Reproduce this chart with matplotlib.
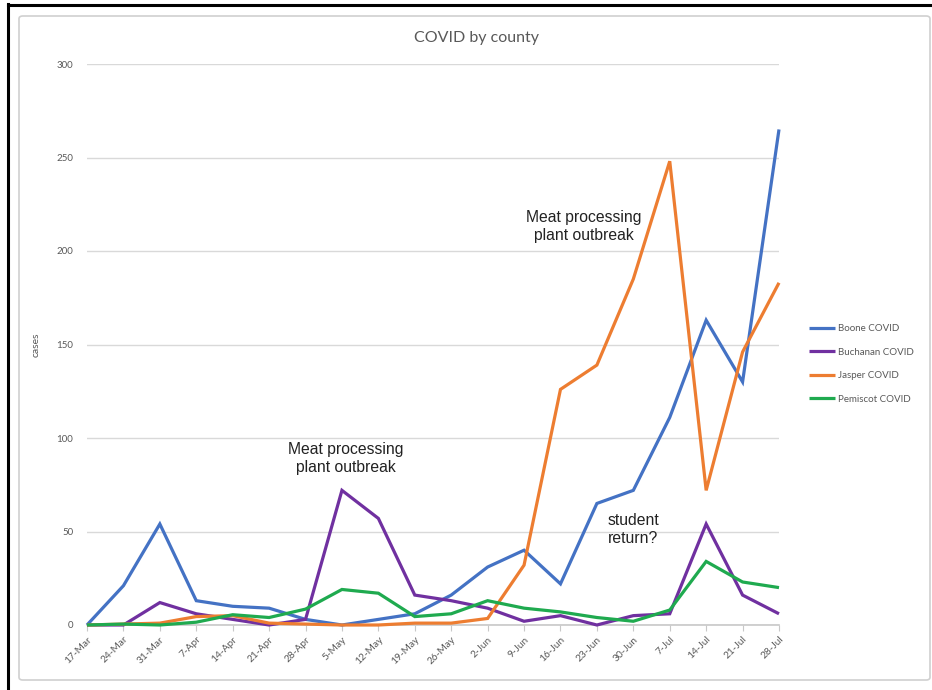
import matplotlib.pyplot as plt
from matplotlib.patches import FancyBboxPatch

# weekly case counts per county
weeks = ['17-Mar', '24-Mar', '31-Mar', '7-Apr', '14-Apr', '21-Apr', '28-Apr',
         '5-May', '12-May', '19-May', '26-May', '2-Jun', '9-Jun', '16-Jun',
         '23-Jun', '30-Jun', '7-Jul', '14-Jul', '21-Jul', '28-Jul']
boone = [0, 21, 54, 13, 10, 9, 3, 0, 3, 6, 16, 31, 40, 22, 65, 72, 111, 163, 130, 265]
buchanan = [0, 0, 12, 6, 3, 0, 3, 72, 57, 16, 13, 9, 2, 5, 0, 5, 6, 54, 16, 6]
jasper = [0, 0.5, 1, 4.5, 5, 1, 0.5, 0, 0, 1, 1, 3.5, 32, 126, 139, 185, 248, 72, 146, 183]
pemiscot = [0, 0.5, 0, 1.5, 5.5, 4, 8.5, 19, 17, 4.5, 6, 13, 9, 7, 4, 2, 8, 34, 23, 20]

series = [('Boone COVID', boone, '#4472C4'),
          ('Buchanan COVID', buchanan, '#7030A0'),
          ('Jasper COVID', jasper, '#ED7D31'),
          ('Pemiscot COVID', pemiscot, '#1FAA4F')]

plt.rcParams['font.family'] = ['Lato', 'DejaVu Sans']

W, H = 932, 690
fig = plt.figure(figsize=(W / 100, H / 100), dpi=100, facecolor='white')


def fx(px):
    return px / W


def fy(py):
    return 1 - py / H


# outer screenshot frame and the chart's own rounded box
box = FancyBboxPatch((fx(19), fy(680)), fx(930 - 19), fy(16) - fy(680),
                     boxstyle='round,pad=0,rounding_size=0.004',
                     transform=fig.transFigure, facecolor='white',
                     edgecolor='#d0d0d0', lw=1.2, zorder=-5)
fig.patches.append(box)
fig.add_artist(plt.Line2D([fx(8), fx(8)], [fy(4), 0], color='black', lw=2.2,
                          transform=fig.transFigure, zorder=-4))
fig.add_artist(plt.Line2D([fx(8), 1], [fy(5), fy(5)], color='black', lw=2.2,
                          transform=fig.transFigure, zorder=-4))

ax = fig.add_axes([fx(87), fy(625), fx(779 - 87), fy(64) - fy(625)], zorder=2)
ax.set_facecolor('none')

x = list(range(len(weeks)))
for name, vals, col in series:
    ax.plot(x, vals, color=col, lw=2.3, label=name, solid_joinstyle='miter',
            solid_capstyle='butt', zorder=3, clip_on=False)

ax.set_xlim(0, len(weeks) - 1)
ax.set_ylim(0, 300)
ax.set_yticks(range(0, 301, 50))
ax.set_xticks(x)
ax.set_xticklabels(weeks, rotation=45, ha='right', rotation_mode='anchor')
ax.grid(axis='y', color='#d9d9d9', lw=1)
ax.set_axisbelow(True)
for s in ['top', 'right', 'left']:
    ax.spines[s].set_visible(False)
ax.spines['bottom'].set_color('#c8c8c8')
ax.spines['bottom'].set_linewidth(1.2)
ax.tick_params(axis='y', length=0, pad=10, labelsize=7, labelcolor='#595959')
ax.tick_params(axis='x', length=4, color='#c8c8c8', pad=3, labelsize=7.3,
               labelcolor='#595959')
ax.set_ylabel('cases', fontsize=7.5, color='#595959', labelpad=11)

# chart title sits centred on the whole chart box
fig.text(fx(476), fy(38), 'COVID by county', fontsize=11.5, color='#595959',
         ha='center', va='center')

leg = ax.legend(loc='center left', bbox_to_anchor=(fx(800), fy(364)),
                bbox_transform=fig.transFigure, frameon=False, fontsize=7,
                handlelength=2.7, handletextpad=0.3, labelspacing=1.5)
for t in leg.get_texts():
    t.set_color('#595959')

note = dict(fontsize=11.3, color='#222222', ha='center', va='center',
            family=['Liberation Sans', 'DejaVu Sans'], linespacing=1.3)
ax.text(7.1, 89, 'Meat processing\nplant outbreak', **note)
ax.text(13.65, 213, 'Meat processing\nplant outbreak', **note)
ax.text(15.0, 51, 'student\nreturn?', **note)

fig.savefig('out.png', dpi=100, facecolor=fig.get_facecolor())
